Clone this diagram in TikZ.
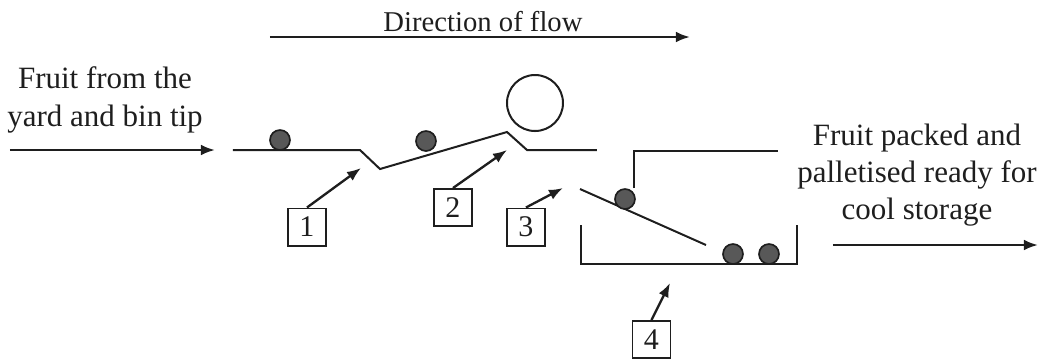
\documentclass[tikz,border=0pt]{standalone}
\usepackage{fontspec}
\setmainfont{Liberation Serif}
\usepackage{xcolor}
\usepackage{tikz}
\usetikzlibrary{arrows.meta}
\definecolor{Ck}{RGB}{30,30,30}
\definecolor{Cf}{RGB}{88,88,88}

\begin{document}
\begin{tikzpicture}[x=0.3pt,y=-0.3pt,line width=0.6pt,Ck,
    fwd/.style={line width=0.7pt,-{Latex[length=4.2pt,width=3.2pt]}},
    numbox/.style={draw,line width=0.5pt,minimum width=11.4pt,minimum height=11.2pt,
      inner sep=0pt,font=\fontsize{9}{10}\selectfont},
    txt/.style={align=center,font=\fontsize{9.3}{11.2}\selectfont}]
    \useasboundingbox (0,0) rectangle (1042,361);
    % conveyors, roller and packing bin
    \draw (233,150) -- (360,150) -- (380,169) -- (507,132) -- (527,150) -- (597,150);
    \draw (535,103) circle (28);
    \draw (634,188) -- (634,151) -- (778,151);
    \draw (580,189) -- (706,245);
    \draw (581,225) -- (581,264) -- (797,264) -- (797,225);
    \foreach \p in {(280,140),(426,141),(625,199),(733,254),(769,254)}{
      \filldraw[fill=Cf,line width=0.5pt] \p circle (10);
    }
    % flow labels and arrows
    \node[txt,font=\fontsize{8.6}{10}\selectfont] (flow) at (483,22) {Direction of flow};
    \coordinate (fs) at (270,37);
    \coordinate (fe) at (690,37);
    \draw[fwd] (fs) -- (fe);
    \node[txt] (infeed) at (105,100) {Fruit from the\\yard and bin tip};
    \coordinate (is) at (10,150);
    \coordinate (ie) at (215,150);
    \draw[fwd] (is) -- (ie);
    \node[txt] (outfeed) at (917,175) {Fruit packed and\\palletised ready for\\cool storage};
    \coordinate (os) at (833,245);
    \coordinate (oe) at (1038,245);
    \draw[fwd] (os) -- (oe);
    % numbered stages
    \node[numbox] (n1) at (307,227) {1};
    \node[numbox] (n2) at (453,207.5) {2};
    \node[numbox] (n3) at (526,227) {3};
    \node[numbox] (n4) at (651.5,339.5) {4};
    \coordinate (t1) at (361,168);
    \coordinate (t2) at (507,150);
    \coordinate (t3) at (563,188);
    \coordinate (t4) at (670,283);
    \foreach \i in {1,...,4}{
      \draw[fwd] (n\i.north) -- (t\i);
    }
\end{tikzpicture}
\end{document}
